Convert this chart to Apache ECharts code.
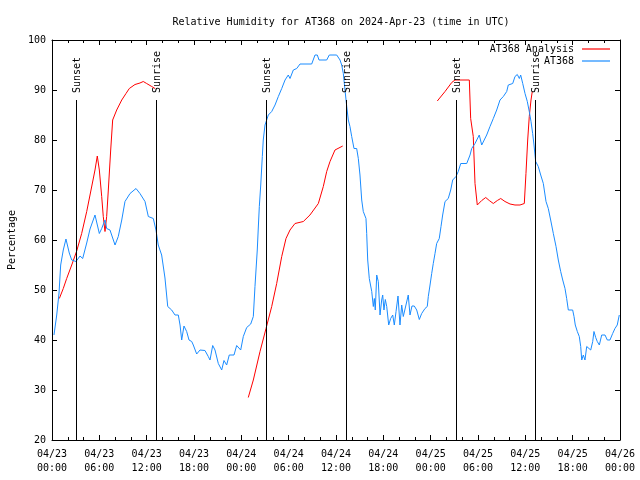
<!DOCTYPE html>
<html>
<head>
<meta charset="utf-8">
<script src="https://cdn.jsdelivr.net/npm/echarts@6/dist/echarts.min.js"></script>
<style>html,body{margin:0;padding:0;background:#fff}#c{width:640px;height:480px}</style>
</head>
<body>
<div id="c"></div>
<script>
// hours since 2024-04-23 00:00 UTC, relative humidity (%)
var humidityObs = [
[0.25,41],[0.6,45],[0.89,49.4],[1.1,55],[1.43,58],[1.77,60.2],[2.19,57.4],[2.5,56],[3.04,55.7],[3.55,56.8],
[3.89,56.3],[4.4,59.4],[4.82,62.2],[5.45,65],[5.67,64.7],[6.0,61.3],[6.3,62.3],[6.72,64],[6.93,62.3],[7.35,62],
[7.99,59],[8.4,60.7],[8.84,64],[9.25,67.7],[9.89,69.3],[10.65,70.3],[11.15,69.3],[11.79,67.7],[12.21,64.7],[12.84,64.3],
[13.18,62],[13.47,59],[13.9,57],[14.32,52.4],[14.67,46.7],[15.17,46],[15.59,45],[16.01,45],[16.23,43],[16.44,40],
[16.73,42.8],[17.07,41.7],[17.37,40],[17.71,39.7],[17.91,39],[18.34,37.2],[18.76,38],[19.39,37.9],[19.81,36.7],[20.03,36],
[20.37,38.9],[20.66,38],[21.08,35.3],[21.51,34],[21.8,35.9],[22.14,35],[22.47,37],[23.07,37],[23.41,38.9],[23.92,38],
[24.25,40.7],[24.68,42.5],[25.19,43.2],[25.52,44.7],[25.73,50.7],[25.86,54],[26.02,58],[26.15,62.4],[26.28,66.7],[26.46,71],
[26.66,76.7],[26.78,80],[27.0,83],[27.42,85],[27.85,85.7],[28.27,87],[28.69,88.7],[29.12,90.3],[29.54,92],[29.95,93],
[30.17,92.3],[30.59,94],[31.02,94.3],[31.44,95.2],[32.92,95.2],[33.34,97],[33.63,97],[33.85,96],[34.82,96],[35.15,97],
[36.09,97],[36.51,96],[36.72,95],[36.93,93.3],[37.14,90],[37.36,86.7],[37.56,84],[37.77,82.7],[37.99,80.7],[38.28,78.3],
[38.62,78.3],[38.83,76.3],[39.04,73],[39.26,68],[39.46,65.7],[39.8,64.3],[39.89,61.3],[40.02,56],[40.22,52.3],[40.53,49.7],
[40.73,46.7],[40.86,48.3],[40.98,46],[41.16,53],[41.36,51.7],[41.58,45],[41.79,48],[41.92,49],[42.08,46],[42.25,48.1],
[42.43,46.7],[42.68,43],[42.93,44.3],[43.19,45],[43.39,43],[43.61,45.7],[43.86,48.8],[44.11,43],[44.33,47],[44.53,44.7],
[44.84,46.8],[45.16,49],[45.38,45],[45.63,46.8],[45.92,46.8],[46.23,46],[46.56,44.1],[46.86,45.3],[47.28,46.3],[47.57,46.7],
[47.7,48.7],[47.92,51],[48.13,53.3],[48.33,55.3],[48.55,57.3],[48.76,59.3],[49.09,60.3],[49.31,62.7],[49.52,65],[49.82,67.7],
[50.23,68.3],[50.54,70],[50.79,72],[51.21,72.7],[51.5,73.7],[51.81,75.3],[52.57,75.3],[52.99,77],[53.2,78.3],[53.62,79.3],
[54.16,81],[54.47,79],[54.67,79],[55.1,81],[55.52,82.7],[55.94,84.3],[56.37,86],[56.79,88],[57.21,88.7],[57.64,89.7],
[57.84,91],[58.4,91.3],[58.69,92.7],[58.98,93.1],[59.24,92.3],[59.41,93],[59.67,91.3],[59.96,89.3],[60.25,87.7],[60.5,85.7],
[60.72,83.7],[60.93,81.3],[61.1,79],[61.31,75.7],[61.64,74.7],[61.95,73],[62.28,71.3],[62.62,67.7],[62.91,66.3],[63.21,64],
[63.55,61.3],[63.89,58.7],[64.18,56],[64.48,53.7],[64.74,52],[65.03,50.3],[65.24,48.3],[65.45,46],[66.0,46],[66.17,44.7],
[66.33,43],[66.59,41.7],[66.84,40.7],[67.02,38.7],[67.15,36],[67.35,37],[67.56,36],[67.78,38.7],[68.29,38],[68.54,39.7],
[68.7,41.7],[68.92,40.5],[69.12,39.7],[69.38,39],[69.68,41],[70.1,41],[70.39,40],[70.73,40],[71.07,41.3],[71.36,42.3],
[71.65,43],[71.91,45]
];
var analysisSeg1 = [
[0.93,48.3],[1.43,50.3],[1.86,52.3],[2.5,55],[3.13,57.8],[3.76,61.3],[4.4,65.7],[4.82,69],[5.45,74],[5.74,76.8],
[6.0,74],[6.3,68.7],[6.5,64.7],[6.72,61.7],[6.93,64.7],[7.14,70],[7.44,78],[7.69,84],[8.2,86],[8.84,88],
[9.38,89.3],[9.8,90.3],[10.52,91.1],[11.15,91.4],[11.57,91.7],[12.0,91.3],[12.64,90.7],[13.06,90.3]
];
var analysisSeg2 = [
[24.88,28.5],[25.52,32],[26.37,37.7],[27.13,42.3],[27.85,46.7],[28.48,51.3],[29.12,56.7],[29.66,60.3],[30.17,62],[30.8,63.3],
[31.86,63.7],[32.7,65],[33.76,67.3],[33.97,67.7],[34.39,70.7],[34.82,73.7],[35.24,75.7],[35.87,78],[36.85,78.8]
];
var analysisSeg3 = [
[48.84,87.8],[49.82,89.7],[50.67,91.5],[51.08,92],[52.9,92],[53.07,84.3],[53.4,80.7],[53.62,71.3],[53.91,67],[54.47,67.9],
[54.98,68.5],[55.43,67.9],[55.94,67.3],[56.45,67.9],[56.88,68.3],[57.42,67.7],[58.06,67.2],[58.69,67],[59.32,67],[59.87,67.3],
[60.08,73.3],[60.3,80],[60.5,84.7],[60.72,88],[60.88,89.7]
];
var eventHours = [3.04, 13.18, 27.13, 37.27, 51.2, 61.2];
var eventNames = ['Sunset','Sunrise','Sunset','Sunrise','Sunset','Sunrise'];
var eventTopValue = 88;
var xTickLabels = ['04/23\n00:00','04/23\n06:00','04/23\n12:00','04/23\n18:00','04/24\n00:00','04/24\n06:00','04/24\n12:00',
  '04/24\n18:00','04/25\n00:00','04/25\n06:00','04/25\n12:00','04/25\n18:00','04/26\n00:00'];
var yMin = 20, yMax = 100, yStep = 10;

var FONT = '"DejaVu Sans Mono", "Liberation Mono", monospace';
var chart = echarts.init(document.getElementById('c'), null, {renderer: 'canvas'});

var axisCommon = {
  axisLine: {show: true, onZero: false, lineStyle: {color: '#000', width: 1}},
  splitLine: {show: false}
};
function xAx(pos, showLabel) {
  return Object.assign({}, axisCommon, {
    type: 'value', position: pos, min: 0, max: 72, interval: 6,
    axisTick: {show: true, inside: true, length: 5, lineStyle: {color: '#000'}},
    minorTick: {show: true, splitNumber: 3, length: 3, lineStyle: {color: '#000'}},
    axisLabel: {show: showLabel, color: '#000', fontFamily: FONT, fontSize: 10, lineHeight: 14, margin: 7,
      formatter: function (v) { return xTickLabels[Math.round(v / 6)]; }}
  });
}
function yAx(pos, showLabel) {
  return Object.assign({}, axisCommon, {
    type: 'value', position: pos, min: yMin, max: yMax, interval: yStep,
    axisTick: {show: true, inside: true, length: 5, lineStyle: {color: '#000'}},
    axisLabel: {show: showLabel, color: '#000', fontFamily: FONT, fontSize: 10, margin: 6}
  });
}
var yLeft = yAx('left', true);
yLeft.name = 'Percentage';
yLeft.nameLocation = 'middle';
yLeft.nameGap = 35;
yLeft.nameTextStyle = {color: '#000', fontFamily: FONT, fontSize: 10};

var RED = '#ff0000', BLUE = '#1a8cff';
function lineSeries(name, data, color) {
  return {
    name: name, type: 'line', data: data, xAxisIndex: 0, yAxisIndex: 0,
    symbol: 'none', showSymbol: false, animation: false,
    lineStyle: {color: color, width: 1}, itemStyle: {color: color}
  };
}
function legendFor(name, top) {
  return {data: [{name: name, icon: 'rect'}], right: 30, top: top, align: 'right', itemWidth: 28, itemHeight: 1.2, itemGap: 2,
    textStyle: {color: '#000', fontFamily: FONT, fontSize: 10, padding: [0, 3, 0, 0]}, padding: 0, selectedMode: false};
}

var option = {
  backgroundColor: '#fff',
  animation: false,
  title: {text: 'Relative Humidity for AT368 on 2024-Apr-23 (time in UTC)', left: 336, textAlign: 'center', top: 12,
    textStyle: {color: '#000', fontFamily: FONT, fontSize: 10, fontWeight: 'normal'}},
  grid: {left: 52, right: 20, top: 40, bottom: 40, containLabel: false, outerBoundsMode: 'none'},
  legend: [legendFor('AT368 Analysis', 44), legendFor('AT368', 56)],
  xAxis: [xAx('bottom', true), xAx('top', false)],
  yAxis: [yLeft, yAx('right', false)],
  series: [
    lineSeries('AT368 Analysis', analysisSeg1, RED),
    lineSeries('AT368 Analysis', analysisSeg2, RED),
    lineSeries('AT368 Analysis', analysisSeg3, RED),
    lineSeries('AT368', humidityObs, BLUE),
    {
      type: 'custom', xAxisIndex: 0, yAxisIndex: 0, clip: false, z: 5,
      data: eventHours.map(function (h, i) { return [h, i]; }),
      renderItem: function (params, api) {
        var h = api.value(0);
        var name = eventNames[api.value(1)];
        var top = api.coord([h, eventTopValue]);
        var bot = api.coord([h, yMin]);
        var x = Math.round(top[0]) + 0.5;
        return {
          type: 'group',
          children: [
            {type: 'line', shape: {x1: x, y1: top[1], x2: x, y2: bot[1]}, style: {stroke: '#000', lineWidth: 1}},
            {type: 'text', x: x + 1, y: top[1] - 7, rotation: Math.PI / 2,
              style: {text: name, fill: '#000', font: '10px ' + FONT, align: 'left', verticalAlign: 'middle'}}
          ]
        };
      }
    }
  ]
};
chart.setOption(option);
</script>
</body>
</html>
